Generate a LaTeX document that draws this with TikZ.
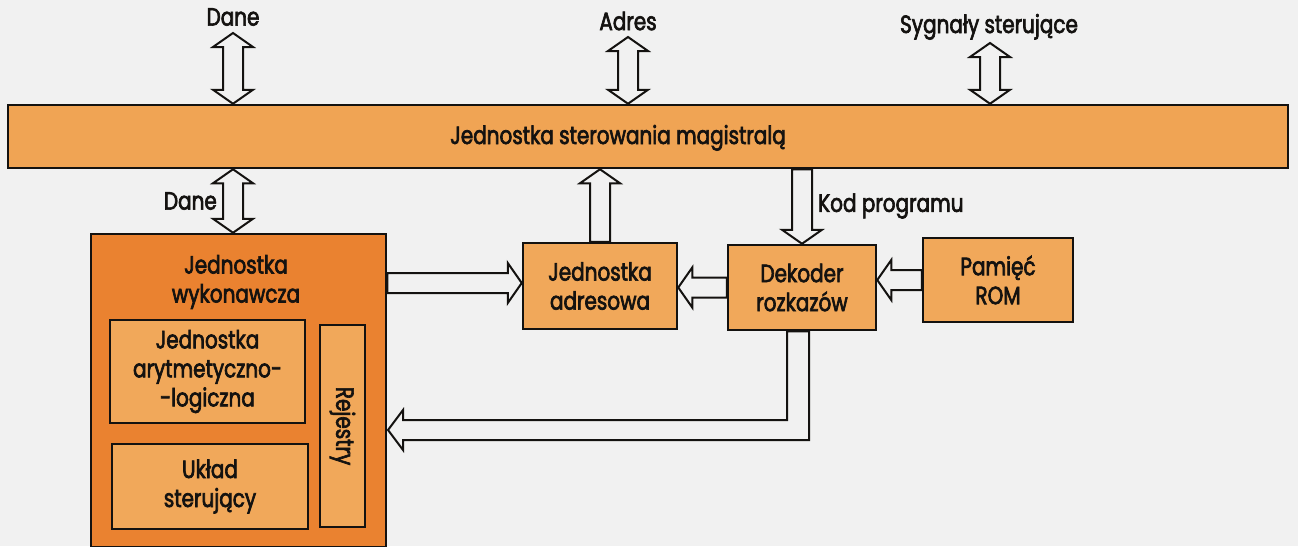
\documentclass[tikz,border=0pt]{standalone}
\usepackage{fontspec}
\setmainfont{Poppins}[FakeStretch=0.8, FakeBold=2.6]
\usetikzlibrary{calc}
\pgfdeclarelayer{paper}
\pgfdeclarelayer{back}
\pgfsetlayers{paper,back,main}

\definecolor{bg}{RGB}{241,241,241}
\definecolor{busfill}{RGB}{240,164,84}
\definecolor{execfill}{RGB}{234,130,48}
\definecolor{innerfill}{RGB}{241,168,90}
\definecolor{ink}{RGB}{20,18,16}

% hollow block arrows (head half-width 20, shaft half-width 10, head length 14)
% vertical two-headed arrow: #1 upper tip, #2 lower tip
\newcommand\dblv[2]{\draw[hollow] let \p1=(#1),\p2=(#2) in
  (\x1,\y1) -- ++(20pt,-14pt) -- ++(-10pt,0pt) -- (\x1+10pt,\y2+14pt) -- ++(10pt,0pt)
  -- (\x1,\y2) -- ++(-20pt,14pt) -- ++(10pt,0pt) -- (\x1-10pt,\y1-14pt) -- ++(-10pt,0pt) -- cycle;}
% single arrow pointing up: #1 tail, #2 tip
\newcommand\arrup[2]{\draw[hollow] let \p1=(#1),\p2=(#2) in
  (\x2,\y2) -- ++(20pt,-14pt) -- ++(-10pt,0pt) -- (\x2+10pt,\y1) -- (\x2-10pt,\y1)
  -- (\x2-10pt,\y2-14pt) -- ++(-10pt,0pt) -- cycle;}
% single arrow pointing down: #1 tail, #2 tip
\newcommand\arrdown[2]{\draw[hollow] let \p1=(#1),\p2=(#2) in
  (\x2,\y2) -- ++(20pt,14pt) -- ++(-10pt,0pt) -- (\x2+10pt,\y1) -- (\x2-10pt,\y1)
  -- (\x2-10pt,\y2+14pt) -- ++(-10pt,0pt) -- cycle;}
% single arrow pointing right: #1 tail, #2 tip
\newcommand\arrright[2]{\draw[hollow] let \p1=(#1),\p2=(#2) in
  (\x2,\y2) -- ++(-14pt,20pt) -- ++(0pt,-10pt) -- (\x1,\y2+10pt) -- (\x1,\y2-10pt)
  -- (\x2-14pt,\y2-10pt) -- ++(0pt,-10pt) -- cycle;}
% single arrow pointing left: #1 tail, #2 tip
\newcommand\arrleft[2]{\draw[hollow] let \p1=(#1),\p2=(#2) in
  (\x2,\y2) -- ++(14pt,20pt) -- ++(0pt,-10pt) -- (\x1,\y2+10pt) -- (\x1,\y2-10pt)
  -- (\x2+14pt,\y2-10pt) -- ++(0pt,-10pt) -- cycle;}

\begin{document}
\begin{tikzpicture}[x=1pt,y=-1pt,
  font=\fontsize{25}{29}\selectfont, text=ink,
  box/.style={draw=ink, line width=2.5pt, inner sep=0pt, align=center},
  busbox/.style={box, fill=busfill},
  execbox/.style={box, fill=execfill},
  unitbox/.style={box, fill=innerfill},
  lbl/.style={inner sep=0pt, align=center},
  hollow/.style={draw=ink, line width=2pt, fill=bg, line join=miter}]

\begin{pgfonlayer}{paper}
  \fill[bg] (0,0) rectangle (1298,546);
\end{pgfonlayer}
\useasboundingbox (0,0) rectangle (1298,546);

% system bus controller
\node[busbox, minimum width=1280, minimum height=63] (bus) at (648,136.5) {};
\node[lbl, anchor=base] (bustxt) at (618,144) {Jednostka sterowania magistralą};

% execution unit with its parts
\node[execbox, minimum width=295, minimum height=313] (exec) at (238.5,390.5) {};
\node[lbl] (exectxt) at (236,282) {Jednostka\\wykonawcza};
\node[unitbox, minimum width=195, minimum height=103] (alu) at (207.5,371.5)
  {Jednostka\\arytmetyczno-\\-logiczna};
\node[unitbox, minimum width=196, minimum height=85] (ctrl) at (210,486.5)
  {Układ\\sterujący};
\node[unitbox, minimum width=45, minimum height=202] (regs) at (342.5,426) {};
\node[lbl, rotate=-90] (regstxt) at (regs.center) {Rejestry};

% address unit, decoder, ROM
\node[unitbox, minimum width=154, minimum height=86] (addr) at (600,286) {Jednostka\\adresowa};
\node[unitbox, minimum width=148, minimum height=85] (dec) at (802,287.5) {Dekoder\\rozkazów};
\node[unitbox, minimum width=150, minimum height=84] (rom) at (998,280) {Pamięć\\ROM};

% bus lines and labels
\node[lbl] (daneT) at (233,17) {Dane};
\node[lbl] (adresT) at (628,21) {Adres};
\node[lbl, anchor=base] (sygT) at (989,33) {Sygnały sterujące};
\node[lbl, anchor=east] (daneB) at (217,201) {Dane};
\node[lbl, anchor=west] (kod) at (818,206) {Kod programu};

\coordinate (d1) at (233,33);
\coordinate (a1) at (628,37);
\coordinate (s1) at (990,43);
\coordinate (x1) at (exec.east |- 0,283);
\coordinate (bt) at (388,430);

\begin{pgfonlayer}{back}
  \dblv{d1}{d1 |- bus.north}
  \dblv{a1}{a1 |- bus.north}
  \dblv{s1}{s1 |- bus.north}
  \dblv{bus.south -| d1}{exec.north -| d1}
  \arrup{addr.north}{bus.south -| addr.north}
  \arrdown{bus.south -| dec.north}{dec.north}
  \arrright{x1}{addr.west |- x1}
  \arrleft{dec.west}{addr.east |- dec.west}
  \arrleft{rom.west}{dec.east |- rom.west}
  % decoder back to the execution unit
  \draw[hollow] let \p1=(bt), \p2=($(dec.south)+(-4,0)$) in
    (\x1,\y1) -- ++(15pt,20pt) -- ++(0pt,-10pt) -- (\x2-11pt,\y1+10pt) -- (\x2-11pt,\y2)
    -- (\x2+11pt,\y2) -- (\x2+11pt,\y1-10pt) -- (\x1+15pt,\y1-10pt) -- ++(0pt,-10pt) -- cycle;
\end{pgfonlayer}
\end{tikzpicture}
\end{document}
